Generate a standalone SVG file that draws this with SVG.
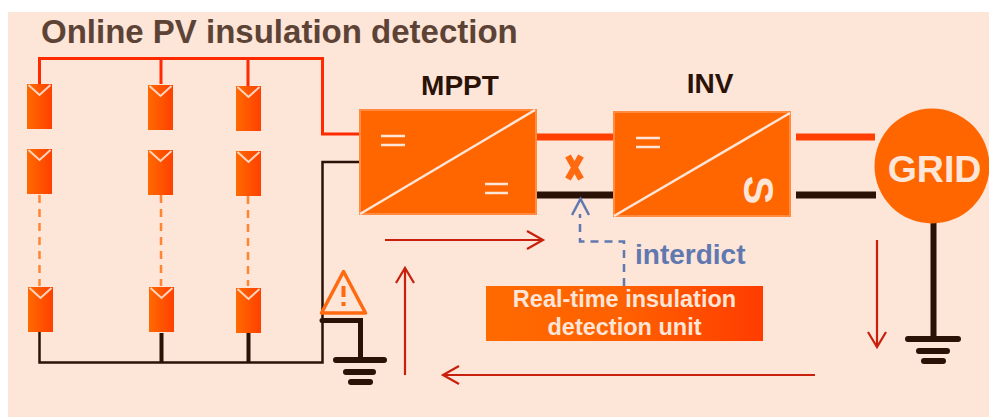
<svg xmlns="http://www.w3.org/2000/svg" xmlns:xlink="http://www.w3.org/1999/xlink" width="989" height="417" viewBox="0 0 989 417">
<style>
text{font-family:"Liberation Sans",Arial,sans-serif;font-weight:bold}
.w{fill:none;stroke-linejoin:miter}
.red{stroke:#ff2a00;stroke-width:3}
.blk{stroke:#2a1206;stroke-width:2.500}
.blkt{stroke:#2a1206;stroke-width:4}
.dash{stroke:#ff8533;stroke-width:2.500;stroke-dasharray:8 6}
.busr{stroke:#ff4000;stroke-width:7}
.busb{stroke:#2a1206;stroke-width:7}
.gnd{stroke:#2a1206;stroke-linecap:round;fill:none}
.flow{fill:none;stroke:#c8200c;stroke-width:2.200}
.blue{fill:none;stroke:#6078b0;stroke-width:2.500}
.conv{fill:#ff6600;stroke:#ff8a40;stroke-width:2}
.pale{stroke:#fde5d8;fill:none}
.lbl{fill:#2a1206;font-size:28px}
</style>
<defs>
<linearGradient id="pg"><stop offset="0" stop-color="#ff6a00"/><stop offset="1" stop-color="#ff4000"/></linearGradient>
<linearGradient id="bg"><stop offset="0" stop-color="#ff6a00"/><stop offset=".5" stop-color="#ff6000"/><stop offset="1" stop-color="#ff3c00"/></linearGradient>
<g id="panel"><rect width="25" height="45" fill="url(#pg)"/><path d="M1.500 1 12.500 11 23.500 1" fill="none" stroke="#fdd5c0" stroke-width="2"/></g>
</defs>
<rect x="8" y="12" width="981" height="405" fill="#fde5d8"/>
<text id="title" x="41" y="43" font-size="33" fill="#5c4336">Online PV insulation detection</text>
<g id="connectors">
<path class="w red" d="M39.500 84V58.500H322.500V134H359M161 58.500V84M248 58.500V86"/>
<path class="w blk" d="M359 162H322.500V362.500H39.500V332"/>
<path class="w blkt" d="M161.500 333V362M248.500 333V362"/>
<path class="w dash" d="M39.500 195V286M161 195V286M248 196V286"/>
<path class="busr" d="M534 137H613M796 137H875"/>
<path class="busb" d="M534 195H613M796 195H876"/>
<path class="gnd" stroke-width="5" stroke-linecap="butt" d="M322 320.500H360.500V358"/>
<path class="gnd" stroke-width="6" d="M336 360H384M346 372H373M351 382H370"/>
<path class="gnd" stroke-width="6" stroke-linecap="butt" d="M933.500 223V339"/>
<path class="gnd" stroke-width="6" d="M908 339H958M919 351H947M924 361H943"/>
<path class="flow" d="M385 240H543M527 231 543 240 527 249"/>
<path class="flow" d="M405 375V268M396 283 405 268 414 283"/>
<path class="flow" d="M815 375H443M459 366 443 375 459 384"/>
<path class="flow" d="M877 240V347M868 332 877 347 886 332"/>
<path class="blue" stroke-dasharray="8 6" d="M624 286V241.500H580V214"/>
<path class="blue" d="M572 215 580.500 199 589 215"/>
</g>
<g id="panels">
<use xlink:href="#panel" x="27" y="84"/><use xlink:href="#panel" x="148" y="85"/><use xlink:href="#panel" x="236" y="86"/>
<use xlink:href="#panel" x="27" y="149"/><use xlink:href="#panel" x="148" y="150"/><use xlink:href="#panel" x="236" y="151"/>
<use xlink:href="#panel" x="28" y="287"/><use xlink:href="#panel" x="149" y="287"/><use xlink:href="#panel" x="236" y="288"/>
</g>
<g id="warning">
<path d="M343.500 271.500 321.500 313H365.500Z" fill="none" stroke="#ff6a10" stroke-width="3.500" stroke-linejoin="round"/>
<path d="M343.500 286V297M343.500 302V306" stroke="#ff6a10" stroke-width="4" fill="none"/>
</g>
<g id="mppt">
<rect class="conv" x="360" y="110" width="176" height="104"/>
<path class="pale" stroke-width="2.500" d="M360 214 535 110"/>
<path class="pale" stroke-width="2.500" d="M381 136H405M381 145H405M485 184H508M485 193H508"/>
<text class="lbl" x="460" y="95" text-anchor="middle">MPPT</text>
</g>
<g id="inv">
<rect class="conv" x="614" y="112" width="176" height="104"/>
<path class="pale" stroke-width="2.500" d="M614 216 790 113"/>
<path class="pale" stroke-width="2.500" d="M636 138H660M636 147H660"/>
<text x="759" y="190" font-size="43" fill="#fde5d8" text-anchor="middle" dominant-baseline="central" transform="rotate(90 759 190)">S</text>
<text class="lbl" x="710" y="93" text-anchor="middle">INV</text>
</g>
<g id="fault"><path d="M568 156 581 179M581 156 568 179" stroke="#ff6a10" stroke-width="6.500" fill="none"/></g>
<g id="grid">
<circle cx="932" cy="166" r="57.500" fill="#ff6600"/>
<text x="934.500" y="182" font-size="37.500" fill="#fde5d8" text-anchor="middle">GRID</text>
</g>
<g id="unit">
<rect x="486" y="286" width="277" height="55" fill="url(#bg)"/>
<text x="624.500" y="307" font-size="23.500" fill="#fde5d8" text-anchor="middle">Real-time insulation</text>
<text x="624.500" y="335" font-size="23.500" fill="#fde5d8" text-anchor="middle">detection unit</text>
</g>
<text id="interdict" x="635" y="264" font-size="28" fill="#6078b0">interdict</text>
</svg>
